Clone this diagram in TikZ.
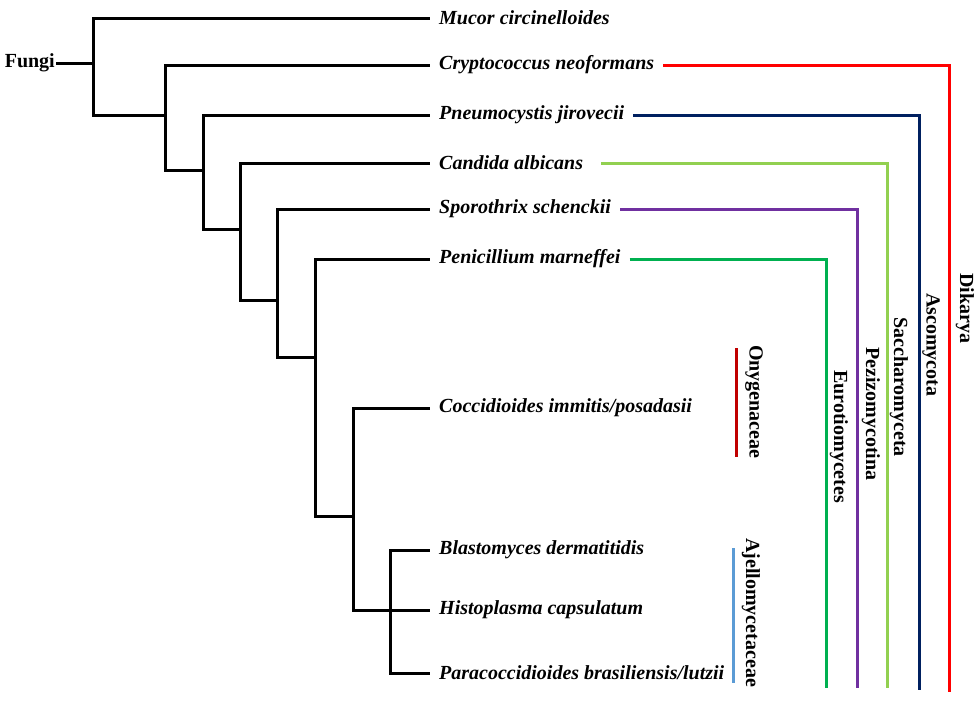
\documentclass[tikz,border=0pt]{standalone}
\usepackage{fontspec}
\setmainfont{Liberation Serif}
\usetikzlibrary{positioning}

\definecolor{dikaryared}{RGB}{255,0,0}
\definecolor{ascoblue}{RGB}{0,32,96}
\definecolor{sacchgreen}{RGB}{146,208,80}
\definecolor{pezipurple}{RGB}{112,48,160}
\definecolor{eurogreen}{RGB}{0,176,80}
\definecolor{onyred}{RGB}{192,0,0}
\definecolor{ajelloblue}{RGB}{91,155,213}

\begin{document}
\begin{tikzpicture}[
    x=1pt, y=-1pt,
    branch/.style={draw, line width=3pt, line join=miter},
    cladeline/.style={draw, line width=3pt, line join=miter},
    taxon/.style={anchor=west, inner xsep=9pt, inner ysep=2pt, font=\fontsize{20}{24}\selectfont\bfseries\itshape},
    clade/.style={rotate=-90, anchor=west, inner sep=0pt, font=\fontsize{20}{24}\selectfont\bfseries}
]
\useasboundingbox (0,0) rectangle (980,704);

% Taxa
\node[taxon] (mucor)  at (430,18)  {Mucor circinelloides};
\node[taxon] (crypto) at (430,65)  {Cryptococcus neoformans};
\node[taxon] (pneumo) at (430,115) {Pneumocystis jirovecii};
\node[taxon] (candida) at (430,163) {Candida albicans};
\node[taxon] (sporo)  at (430,209) {Sporothrix schenckii};
\node[taxon] (penic)  at (430,259) {Penicillium marneffei};
\node[taxon] (cocci)  at (430,408) {Coccidioides immitis/posadasii};
\node[taxon] (blasto) at (430,550) {Blastomyces dermatitidis};
\node[taxon] (histo)  at (430,610) {Histoplasma capsulatum};
\node[taxon] (para)   at (430,673) {Paracoccidioides brasiliensis/lutzii};

\node[anchor=east, inner sep=1pt, font=\fontsize{20}{24}\selectfont\bfseries] (fungi) at (56,63) {Fungi};

% Internal nodes
\coordinate (r0) at (93,63);
\coordinate (n1) at (165,115);
\coordinate (n2) at (203,170);
\coordinate (n3) at (240,229);
\coordinate (n4) at (277,300);
\coordinate (n5) at (315,357);
\coordinate (n6) at (353,516);
\coordinate (n7) at (390,610);

% Tree
\draw[branch] (fungi.east) -- (r0);
\draw[branch] (r0) |- (mucor.west);
\draw[branch] (r0) |- (n1);
\draw[branch] (n1) |- (crypto.west);
\draw[branch] (n1) |- (n2);
\draw[branch] (n2) |- (pneumo.west);
\draw[branch] (n2) |- (n3);
\draw[branch] (n3) |- (candida.west);
\draw[branch] (n3) |- (n4);
\draw[branch] (n4) |- (sporo.west);
\draw[branch] (n4) |- (n5);
\draw[branch] (n5) |- (penic.west);
\draw[branch] (n5) |- (n6);
\draw[branch] (n6) |- (cocci.west);
\draw[branch] (n6) |- (n7);
\draw[branch] (n7) |- (blasto.west);
\draw[branch] (n7) -- (histo.west);
\draw[branch] (n7) |- (para.west);

% Clade brackets
\coordinate (dk-foot) at (949,692);
\coordinate (as-foot) at (919,690);
\coordinate (sa-foot) at (887,688);
\coordinate (pe-foot) at (857,688);
\coordinate (eu-foot) at (826,688);
\draw[cladeline, dikaryared] (crypto.east) -| (dk-foot);
\draw[cladeline, ascoblue] (pneumo.east) -| (as-foot);
\draw[cladeline, sacchgreen] ([xshift=9pt]candida.east) -| (sa-foot);
\draw[cladeline, pezipurple] (sporo.east) -| (pe-foot);
\draw[cladeline, eurogreen] (penic.east) -| (eu-foot);

\node[clade] (dikarya) at (965,273) {Dikarya};
\node[clade] (asco)    at (931,293) {Ascomycota};
\node[clade] (sacch)   at (899,317) {Saccharomyceta};
\node[clade] (pezizo)  at (871,347) {Pezizomycotina};
\node[clade] (euro)    at (839,370) {Eurotiomycetes};

% Families
\coordinate (ony-top) at (736,348);
\coordinate (ony-bot) at (736,457);
\coordinate (aje-top) at (733,548);
\coordinate (aje-bot) at (733,683);
\draw[cladeline, onyred] (ony-top) -- (ony-bot);
\draw[cladeline, ajelloblue] (aje-top) -- (aje-bot);
\node[clade] (onyg)   at (754,345) {Onygenaceae};
\node[clade] (ajello) at (751,538) {Ajellomycetaceae};

\end{tikzpicture}
\end{document}
